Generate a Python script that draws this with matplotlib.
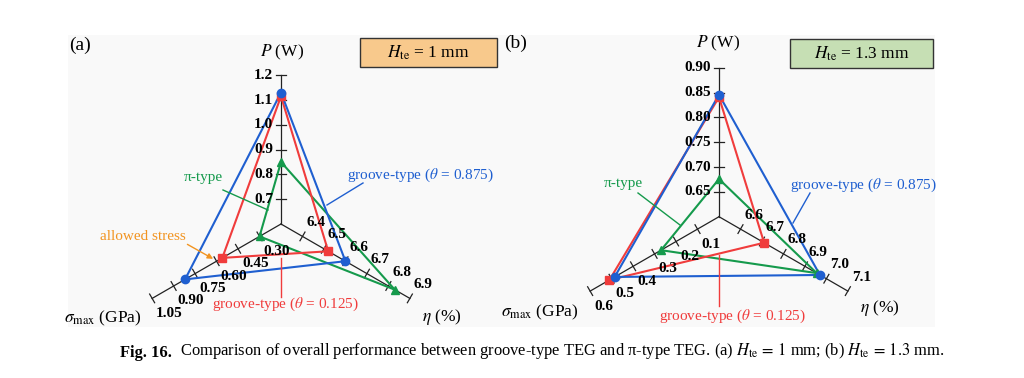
import numpy as np
import matplotlib.pyplot as plt
from matplotlib.patches import Rectangle

plt.rcParams['font.family'] = ['Liberation Serif', 'DejaVu Serif']
plt.rcParams['mathtext.fontset'] = 'stix'

# tick labels of the three axes (the centre sits one step below the first tick)
p_labels_a = ['0.7', '0.8', '0.9', '1.0', '1.1', '1.2']
s_labels_a = ['0.30', '0.45', '0.60', '0.75', '0.90', '1.05']
e_labels_a = ['6.4', '6.5', '6.6', '6.7', '6.8', '6.9']
p_labels_b = ['0.65', '0.70', '0.75', '0.80', '0.85', '0.90']
s_labels_b = ['0.1', '0.2', '0.3', '0.4', '0.5', '0.6']
e_labels_b = ['6.6', '6.7', '6.8', '6.9', '7.0', '7.1']

# values: [P (W), sigma_max (GPa), eta (%)]
groove875_a = [1.13, 0.82, 6.60]
groove125_a = [1.115, 0.56, 6.52]
pi_a = [0.85, 0.30, 6.83]
groove875_b = [0.846, 0.486, 6.97]
groove125_b = [0.841, 0.51, 6.71]
pi_b = [0.676, 0.27, 6.955]
allowed_stress_a = 0.60

BLUE = '#1f5fd0'
RED = '#f03c3c'
GREEN = '#159a4c'
ORANGE = '#f29420'

UNIT = 24.8  # pixels per tick step
DIRS = [np.array([0.0, -1.0]),
        np.array([-np.cos(np.pi / 6), np.sin(np.pi / 6)]),
        np.array([np.cos(np.pi / 6), np.sin(np.pi / 6)])]

fig = plt.figure(figsize=(10.24, 3.78), dpi=100)
ax = fig.add_axes([0, 0, 1, 1])
ax.set_xlim(0, 1024)
ax.set_ylim(378, 0)
ax.axis('off')

ax.add_patch(Rectangle((68, 35), 867, 292, facecolor='#f9f9f9', edgecolor='none', zorder=0))


def to_xy(center, k, value, labels):
    ticks = [float(t) for t in labels]
    step = ticks[1] - ticks[0]
    origin = ticks[0] - step
    r = (value - origin) / step * UNIT
    return np.array(center) + r * DIRS[k]


def draw_panel(center, labels, series):
    cx, cy = center
    for k, labs in enumerate(labels):
        end = to_xy(center, k, float(labs[-1]), labs)
        ax.plot([cx, end[0]], [cy, end[1]], color='#222222', lw=0.9, zorder=2)
        d = DIRS[k]
        perp = np.array([-d[1], d[0]])
        for lab in labs:
            p = to_xy(center, k, float(lab), labs)
            a, b = p - 5 * perp, p + 5 * perp
            ax.plot([a[0], b[0]], [a[1], b[1]], color='#222222', lw=0.9, zorder=2)
            if k == 0:
                ax.text(p[0] - 8, p[1], lab, ha='right', va='center',
                        fontsize=11, fontweight='bold', zorder=5)
            elif k == 1:
                ax.text(p[0] + 4, p[1] + 15, lab, ha='left', va='center',
                        fontsize=11, fontweight='bold', zorder=5)
            else:
                ax.text(p[0] + 4, p[1] - 14, lab, ha='left', va='center',
                        fontsize=11, fontweight='bold', zorder=5)
    for vals, color, marker in series:
        pts = [to_xy(center, k, v, labels[k]) for k, v in enumerate(vals)]
        pts.append(pts[0])
        xs = [p[0] for p in pts]
        ys = [p[1] for p in pts]
        ax.plot(xs, ys, color=color, lw=1.5, zorder=3)
        ax.plot(xs[:-1], ys[:-1], ls='none', marker=marker, ms=6,
                color=color, zorder=4)


center_a = (281, 224)
center_b = (719, 216.7)
draw_panel(center_a, [p_labels_a, s_labels_a, e_labels_a],
           [(pi_a, GREEN, '^'), (groove125_a, RED, 's'), (groove875_a, BLUE, 'o')])
draw_panel(center_b, [p_labels_b, s_labels_b, e_labels_b],
           [(pi_b, GREEN, '^'), (groove125_b, RED, 's'), (groove875_b, BLUE, 'o')])

# axis titles and panel marks
for (px, py), (sx, sy), (ex, ey) in [((282, 52), (103, 318), (442, 317)),
                                     ((718, 43), (540, 312), (880, 308))]:
    ax.text(px, py, '$P$ (W)', ha='center', va='center', fontsize=12.5)
    ax.text(sx, sy, r'$\sigma_{\rm max}$ (GPa)', ha='center', va='center', fontsize=12.5)
    ax.text(ex, ey, r'$\eta$ (%)', ha='center', va='center', fontsize=12.5)
ax.text(80, 45, '(a)', ha='center', va='center', fontsize=14)
ax.text(516, 43, '(b)', ha='center', va='center', fontsize=14)

ax.add_patch(Rectangle((360, 38), 137, 29, facecolor='#f8c98c', edgecolor='#333333', lw=1, zorder=5))
ax.text(428.5, 52.5, r'$H_{\rm te}$ = 1 mm', ha='center', va='center', fontsize=12.5, zorder=6)
ax.add_patch(Rectangle((790, 39), 143, 29, facecolor='#c6dfb4', edgecolor='#333333', lw=1, zorder=5))
ax.text(861.5, 53.5, r'$H_{\rm te}$ = 1.3 mm', ha='center', va='center', fontsize=12.5, zorder=6)

# leader lines and series labels
def label(text, xy, line, color, arrow=False):
    ax.text(xy[0], xy[1], text, ha='center', va='center', fontsize=11, color=color, zorder=6)
    (x0, y0), (x1, y1) = line
    if arrow:
        ax.annotate('', xy=(x1, y1), xytext=(x0, y0),
                    arrowprops=dict(arrowstyle='-|>', color=color, lw=1, mutation_scale=8))
    else:
        ax.plot([x0, x1], [y0, y1], color=color, lw=1, zorder=6)


label('π-type', (203, 177), ((223, 190), (268, 210)), GREEN)
label(r'groove-type ($\theta$ = 0.875)', (420, 175), ((363, 183), (327, 205)), BLUE)
label(r'groove-type ($\theta$ = 0.125)', (285, 304), ((281, 258), (281, 297)), RED)
tip = to_xy(center_a, 1, allowed_stress_a, s_labels_a)
label('allowed stress', (143, 237), ((185, 243), (tip[0] - 1, tip[1] - 1)), ORANGE, arrow=True)

label('π-type', (623, 183), ((638, 193), (680, 225)), GREEN)
label(r'groove-type ($\theta$ = 0.875)', (863, 185), ((810, 193), (793, 223)), BLUE)
label(r'groove-type ($\theta$ = 0.125)', (732, 316), ((719, 255), (719, 306)), RED)

# caption
fig_txt = ax.text(120, 353, 'Fig. 16.', ha='left', va='center', fontsize=11.9, fontweight='bold')
ax.annotate('  Comparison of overall performance between groove-type TEG and π-type TEG. '
            r'(a) $H_{\rm te}\,=\,1$ mm; (b) $H_{\rm te}\,=\,1.3$ mm.',
            xy=(1, 0), xycoords=fig_txt, ha='left', va='bottom', fontsize=11.9)

fig.savefig('out.png', dpi=100)
